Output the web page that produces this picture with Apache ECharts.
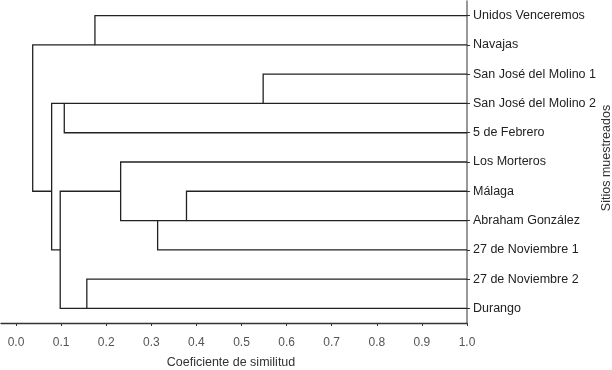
<!DOCTYPE html>
<html>
<head>
<meta charset="utf-8">
<script src="https://cdn.jsdelivr.net/npm/echarts@6/dist/echarts.min.js"></script>
<style>
  html, body { margin: 0; padding: 0; background: #fff; }
  #main { width: 612px; height: 370px; }
</style>
</head>
<body>
<div id="main"></div>
<script>
// sites, top to bottom (leaf order of the dendrogram)
const sites = [
  'Unidos Venceremos', 'Navajas', 'San José del Molino 1', 'San José del Molino 2',
  '5 de Febrero', 'Los Morteros', 'Málaga', 'Abraham González',
  '27 de Noviembre 1', '27 de Noviembre 2', 'Durango'
];
// merges, linkage style: ids 0..10 are sites, each merge creates id 11, 12, ...
const mergeLeft   = [0, 2, 12, 6, 14, 5, 9, 16, 13, 11];
const mergeRight  = [1, 3, 4, 7, 8, 15, 10, 17, 18, 19];
const mergeHeight = [0.175, 0.548, 0.107, 0.378, 0.314, 0.232, 0.157, 0.098, 0.079, 0.037];
const tickValues = [0, 0.1, 0.2, 0.3, 0.4, 0.5, 0.6, 0.7, 0.8, 0.9, 1.0];

var myChart = echarts.init(document.getElementById('main'));

// node position: leaves sit at similarity 1.0, merges at their height, y = mean of children
const nodeX = sites.map(() => 1.0);
const nodeY = sites.map((s, i) => i);
const links = [];
mergeHeight.forEach((h, i) => {
  const a = mergeLeft[i], b = mergeRight[i];
  links.push([h, nodeX[a], nodeY[a], nodeX[b], nodeY[b]]);
  nodeX.push(h);
  nodeY.push((nodeY[a] + nodeY[b]) / 2);
});

const font = 'Liberation Sans';

var option = {
  animation: false,
  textStyle: { fontFamily: font },
  grid: { left: 1, right: 145, top: 1, bottom: 47, outerBoundsMode: 'none' },
  xAxis: {
    type: 'value',
    min: -0.0333,
    max: 1,
    name: 'Coeficiente de similitud',
    nameLocation: 'middle',
    nameGap: 33,
    nameTextStyle: { color: '#333', fontSize: 12.5, fontFamily: font, padding: [0, 6, 0, 0] },
    axisLine: { show: true, onZero: false, lineStyle: { color: '#333', width: 1.3 } },
    axisTick: { show: true, customValues: tickValues, length: 3, lineStyle: { color: '#333' } },
    axisLabel: {
      customValues: tickValues,
      formatter: v => v.toFixed(1),
      color: '#555', fontSize: 12, fontFamily: font, margin: 14
    },
    splitLine: { show: false }
  },
  yAxis: {
    type: 'category',
    data: sites,
    inverse: true,
    position: 'right',
    boundaryGap: true,
    axisLine: { show: true, onZero: false, lineStyle: { color: '#777', width: 1.5 } },
    axisTick: { show: true, alignWithLabel: true, length: 3, lineStyle: { color: '#333' } },
    axisLabel: { color: '#222', fontSize: 12.5, fontFamily: font, margin: 6 },
    splitLine: { show: false }
  },
  graphic: [{
    type: 'text',
    x: 607, y: 158,
    rotation: Math.PI / 2,
    style: {
      text: 'Sitios muestreados',
      fill: '#333', fontSize: 12.5,
      fontFamily: font,
      align: 'center', verticalAlign: 'middle'
    }
  }],
  series: [{
    type: 'custom',
    coordinateSystem: 'cartesian2d',
    data: links,
    encode: { x: [0, 1, 3], y: [2, 4] },
    renderItem: function (params, api) {
      const h = api.value(0);
      const p1 = api.coord([api.value(1), api.value(2)]);
      const p2 = api.coord([h, api.value(2)]);
      const p3 = api.coord([h, api.value(4)]);
      const p4 = api.coord([api.value(3), api.value(4)]);
      return {
        type: 'polyline',
        shape: { points: [p1, p2, p3, p4] },
        style: { stroke: '#222', lineWidth: 1.3, fill: null }
      };
    }
  }]
};

myChart.setOption(option);
</script>
</body>
</html>
